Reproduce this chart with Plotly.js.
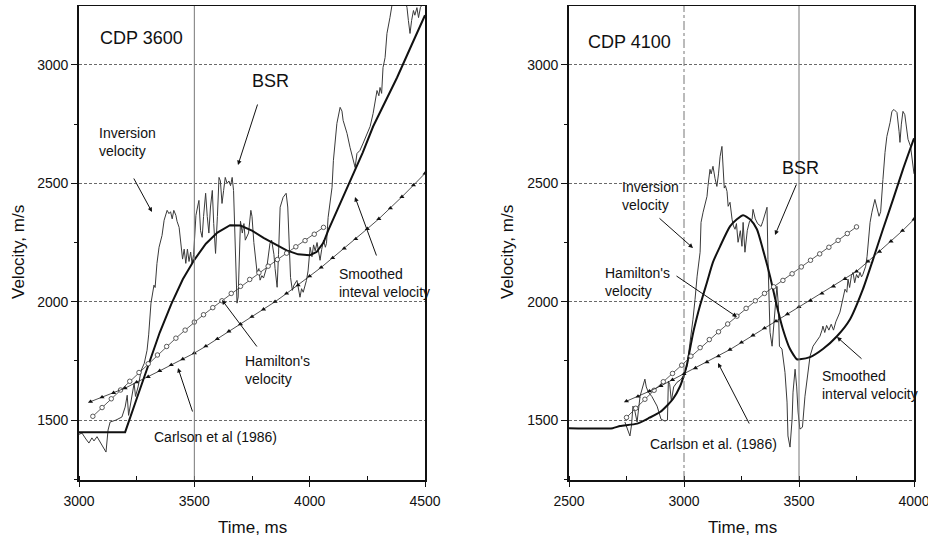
<!DOCTYPE html>
<html>
<head>
<meta charset="utf-8">
<script src="https://cdn.plot.ly/plotly-3.0.1.min.js"></script>
<style>
  html, body { margin: 0; padding: 0; background: #fff; }
  #chart { width: 928px; height: 538px; }
</style>
</head>
<body>
<div id="chart"></div>
<script>
// ---------------- CDP 3600 (left panel) ----------------
const inv3600T = [3000,3013,3030,3043,3056,3065,3078,3100,3117,3126,3135,3160,3186,3200,3209,3215,3239,3245,3256,3270,3283,3295,3302,3312,3317,3325,3330,3338,3347,3360,3369,3374,3382,3390,3397,3404,3411,3420,3425,3434,3441,3449,3456,3463,3470,3477,3484,3490,3497,3507,3514,3520,3527,3534,3540,3549,3556,3563,3570,3578,3584,3592,3600,3607,3613,3620,3627,3634,3642,3650,3657,3664,3670,3679,3685,3690,3696,3700,3708,3715,3721,3735,3745,3750,3758,3772,3780,3785,3793,3800,3815,3828,3835,3845,3850,3859,3865,3872,3885,3898,3905,3912,3917,3925,3932,3945,3952,3958,3965,3972,3986,3993,4002,4010,4017,4024,4032,4045,4052,4060,4068,4073,4080,4097,4103,4110,4118,4132,4140,4145,4162,4175,4190,4197,4205,4218,4232,4240,4249,4262,4275,4292,4300,4305,4312,4318,4327,4335,4348,4357,4370,4400,4415,4422,4428,4435,4442,4450,4456,4465,4472,4480,4490,4500];
const inv3600V = [1440,1445,1420,1403,1425,1412,1430,1395,1365,1458,1492,1500,1513,1555,1605,1520,1656,1600,1640,1711,1740,1795,1860,1994,2019,2070,2060,2162,2230,2280,2344,2358,2386,2372,2380,2350,2386,2365,2340,2314,2247,2180,2222,2162,2222,2170,2210,2162,2200,2365,2400,2428,2300,2272,2360,2458,2360,2290,2400,2470,2330,2204,2360,2525,2510,2415,2470,2525,2500,2510,2490,2525,2470,2217,1994,2020,2200,2340,2290,2330,2260,2290,2386,2360,2250,2124,2140,2091,2110,2100,2150,2247,2260,2200,2140,2061,2200,2399,2441,2458,2400,2217,2103,2048,2070,2090,2050,2019,2055,2040,2090,2130,2230,2190,2240,2215,2250,2175,2220,2260,2230,2247,2356,2483,2597,2681,2753,2821,2805,2766,2711,2652,2597,2567,2626,2639,2670,2690,2711,2740,2795,2892,2870,2905,2880,2989,3031,3133,3200,3259,3330,3330,3260,3242,3188,3133,3188,3230,3210,3242,3200,3242,3260,3300];

const smooth3600T = [3000,3200,3250,3300,3350,3400,3450,3500,3550,3600,3655,3700,3750,3800,3850,3900,3950,4000,4030,4060,4080,4132,4175,4230,4275,4330,4379,4440,4500];
const smooth3600V = [1449,1449,1590,1730,1870,1990,2095,2177,2245,2292,2323,2322,2300,2270,2242,2217,2200,2196,2210,2250,2300,2416,2513,2630,2740,2850,2947,3080,3210];

const ham3600T = [3060,3100,3140,3180,3220,3260,3300,3340,3380,3420,3460,3500,3540,3580,3620,3660,3700,3740,3780,3820,3860,3900,3940,3980,4020,4060];
const ham3600V = [1516,1553,1590,1627,1664,1701,1738,1775,1811,1846,1880,1914,1945,1975,2004,2035,2065,2094,2122,2150,2178,2205,2232,2258,2285,2314];

const carl3600T = [3050,3100,3150,3200,3250,3300,3350,3400,3450,3500,3550,3600,3650,3700,3750,3800,3850,3900,3950,4000,4050,4100,4150,4200,4250,4300,4350,4400,4450,4500];
const carl3600V = [1578,1597,1615,1635,1660,1683,1708,1733,1758,1783,1812,1843,1875,1905,1937,1968,2000,2035,2070,2108,2145,2185,2225,2265,2308,2350,2395,2443,2492,2542];

// ---------------- CDP 4100 (right panel) ----------------
const inv4100T = [2743,2752,2765,2772,2778,2786,2796,2809,2820,2830,2836,2845,2860,2883,2900,2917,2928,2932,2938,2945,2955,2970,2985,3000,3013,3026,3039,3048,3057,3070,3074,3083,3092,3100,3104,3113,3118,3126,3135,3143,3150,3157,3165,3170,3175,3180,3187,3192,3200,3209,3215,3222,3228,3235,3245,3252,3257,3265,3275,3285,3296,3300,3310,3320,3335,3343,3352,3361,3365,3369,3374,3383,3390,3397,3404,3410,3415,3426,3432,3439,3448,3452,3461,3466,3470,3474,3483,3490,3496,3504,3515,3526,3535,3548,3561,3575,3591,3600,3604,3612,3620,3630,3640,3650,3660,3678,3691,3700,3708,3713,3720,3728,3735,3742,3750,3758,3765,3772,3778,3790,3796,3809,3817,3830,3838,3848,3855,3861,3865,3874,3882,3896,3904,3913,3926,3935,3939,3945,3952,3960,3968,3974,3985,3996,4000];
const inv4100V = [1492,1470,1433,1480,1559,1540,1492,1601,1640,1673,1640,1618,1600,1559,1504,1496,1500,1665,1650,1580,1640,1660,1670,1690,1728,1820,1926,2010,2108,2209,2335,2378,2420,2445,2487,2559,2540,2572,2520,2487,2540,2614,2656,2559,2480,2490,2466,2403,2420,2348,2320,2306,2330,2251,2300,2234,2335,2209,2300,2340,2348,2390,2350,2330,2318,2340,2369,2399,2179,2040,1871,1812,1900,1990,2065,1990,1812,1800,1760,1702,1576,1433,1386,1450,1504,1618,1715,1640,1534,1462,1470,1601,1673,1770,1812,1830,1854,1880,1897,1870,1900,1880,1905,1880,1915,1956,2023,2053,2040,2095,2060,2110,2124,2080,2115,2100,2124,2105,2116,2150,2192,2335,2378,2432,2400,2361,2380,2445,2517,2631,2698,2757,2804,2812,2799,2720,2673,2750,2804,2790,2720,2686,2656,2559,2540];

const smooth4100T = [2500,2690,2722,2796,2850,2896,2930,2952,2983,3000,3013,3026,3039,3055,3070,3100,3126,3157,3200,3230,3257,3287,3317,3343,3374,3404,3430,3461,3491,3504,3548,3604,3665,3722,3778,3822,3865,3909,3952,4000];
const smooth4100V = [1466,1466,1475,1485,1510,1534,1565,1589,1643,1690,1735,1800,1865,1930,1985,2082,2167,2234,2318,2348,2365,2348,2306,2221,2108,1981,1884,1800,1757,1757,1766,1800,1854,1926,2053,2179,2306,2432,2559,2690];

const ham4100T = [2750,2790,2830,2870,2910,2950,2990,3030,3070,3110,3150,3190,3230,3270,3310,3350,3390,3430,3470,3510,3550,3590,3630,3670,3710,3750];
const ham4100V = [1511,1550,1588,1626,1662,1697,1732,1770,1806,1840,1873,1906,1939,1972,2004,2035,2063,2090,2118,2147,2175,2202,2230,2259,2288,2316];

const carl4100T = [2750,2800,2850,2900,2950,3000,3050,3100,3150,3200,3250,3300,3350,3400,3450,3500,3550,3600,3650,3700,3750,3800,3850,3900,3950,4000];
const carl4100V = [1580,1600,1622,1645,1670,1695,1720,1745,1770,1798,1828,1858,1888,1918,1948,1978,2005,2035,2065,2097,2128,2170,2212,2255,2300,2348];

// ---------------- labels ----------------
const panelTitles = ['CDP 3600', 'CDP 4100'];
const xTitle = 'Time, ms';
const yTitle = 'Velocity, m/s';
const xTicksLeft = [3000, 3500, 4000, 4500];
const xTicksRight = [2500, 3000, 3500, 4000];
const yTicks = [1500, 2000, 2500, 3000];

const FONT = 'Liberation Sans, Arial, Helvetica, sans-serif';
const W = 928, H = 538;

function invTrace(x, y, xa, ya) {
  return {x, y, xaxis: xa, yaxis: ya, type: 'scatter', mode: 'lines',
    line: {color: '#3a3a3a', width: 1}, hoverinfo: 'skip'};
}
function smoothTrace(x, y, xa, ya, spline) {
  return {x, y, xaxis: xa, yaxis: ya, type: 'scatter', mode: 'lines',
    line: {color: '#111', width: 2, shape: spline ? 'spline' : 'linear', smoothing: 0.6}, hoverinfo: 'skip'};
}
function hamTrace(x, y, xa, ya) {
  return {x, y, xaxis: xa, yaxis: ya, type: 'scatter', mode: 'lines+markers',
    line: {color: '#333', width: 0.8},
    marker: {symbol: 'circle', size: 4.5, color: '#fff', line: {color: '#333', width: 0.8}}, hoverinfo: 'skip'};
}
function carlTrace(x, y, xa, ya) {
  return {x, y, xaxis: xa, yaxis: ya, type: 'scatter', mode: 'lines+markers',
    line: {color: '#222', width: 0.8},
    marker: {symbol: 'triangle-up', size: 4.5, color: '#111'}, hoverinfo: 'skip'};
}

const data = [
  invTrace(inv3600T, inv3600V, 'x', 'y'),
  smoothTrace(smooth3600T, smooth3600V, 'x', 'y', false),
  hamTrace(ham3600T, ham3600V, 'x', 'y'),
  carlTrace(carl3600T, carl3600V, 'x', 'y'),
  invTrace(inv4100T, inv4100V, 'x2', 'y2'),
  smoothTrace(smooth4100T, smooth4100V, 'x2', 'y2', true),
  hamTrace(ham4100T, ham4100V, 'x2', 'y2'),
  carlTrace(carl4100T, carl4100V, 'x2', 'y2')
];

function xAxis(domain, range, ticks, anchor) {
  return {domain, range, anchor, tickvals: ticks, ticktext: ticks.map(String),
    showgrid: false, zeroline: false, showline: true, mirror: true, linecolor: '#111', linewidth: 1.5,
    ticks: 'outside', ticklen: 5, tickwidth: 1, tickcolor: '#111',
    minor: {dtick: 250, ticks: 'inside', ticklen: 4, tickcolor: '#111', showgrid: false},
    tickfont: {family: FONT, size: 14, color: '#111'}, ticklabelstandoff: 3,
    ticklabeloverflow: 'allow', fixedrange: true};
}
function yAxis(anchor) {
  return {domain: [(H - 480) / H, (H - 6) / H], range: [1247, 3249], anchor, tickvals: yTicks, ticktext: yTicks.map(String),
    showgrid: true, gridcolor: '#6a6a6a', gridwidth: 1, griddash: '3px,2px', zeroline: false,
    showline: true, mirror: true, linecolor: '#111', linewidth: 1.8,
    ticks: 'outside', ticklen: 6, tickwidth: 1, tickcolor: '#111',
    minor: {dtick: 250, ticks: 'outside', ticklen: 3, tickcolor: '#111', showgrid: false},
    tickfont: {family: FONT, size: 14, color: '#111'}, ticklabeloverflow: 'allow', fixedrange: true};
}

function P(x, y) { return {x: x / W, y: 1 - y / H}; }
function label(text, x, y, size, anchor) {
  const p = P(x, y);
  return {xref: 'paper', yref: 'paper', x: p.x, y: p.y, text, showarrow: false,
    xanchor: anchor || 'left', yanchor: 'middle', align: 'left',
    font: {family: FONT, size: size, color: '#111'}};
}
function arrow(tx, ty, hx, hy) {
  const p = P(hx, hy);
  return {xref: 'paper', yref: 'paper', x: p.x, y: p.y, ax: tx - hx, ay: ty - hy,
    axref: 'pixel', ayref: 'pixel', text: '', showarrow: true,
    arrowhead: 2, arrowsize: 0.9, arrowwidth: 1, arrowcolor: '#111'};
}
function vtitle(text, x, y) {
  const p = P(x, y);
  return {xref: 'paper', yref: 'paper', x: p.x, y: p.y, text, showarrow: false, textangle: -90,
    xanchor: 'center', yanchor: 'middle', font: {family: FONT, size: 17, color: '#111'}};
}

const annotations = [
  label(panelTitles[0], 141, 38, 18, 'center'),
  label('BSR', 270, 81, 18, 'center'),
  label('Inversion<br>velocity', 97, 142, 14),
  label('Smoothed<br>inteval velocity', 337, 283, 14),
  label("Hamilton's<br>velocity", 243, 370, 14),
  label('Carlson et al (1986)', 152, 437, 14),
  arrow(258, 103, 238, 165),
  arrow(133, 177, 152, 212),
  arrow(377, 257, 355, 197),
  arrow(258, 348, 222, 300),
  arrow(193, 413, 178, 368),

  label(panelTitles[1], 629, 42, 18, 'center'),
  label('BSR', 800, 168, 18, 'center'),
  label('Inversion<br>velocity', 620, 196, 14),
  label("Hamilton's<br>velocity", 603, 282, 14),
  label('Carlson et al. (1986)', 648, 444, 14),
  label('Smoothed<br>interval velocity', 820, 385, 14),
  arrow(797, 183, 775, 235),
  arrow(658, 217, 693, 248),
  arrow(675, 275, 737, 317),
  arrow(750, 425, 718, 363),
  arrow(863, 360, 837, 337),

  vtitle(yTitle, 19, 252),
  vtitle(yTitle, 508, 252),
  label(xTitle, 253, 527, 17, 'center'),
  label(xTitle, 742, 527, 17, 'center')
];

const shapes = [
  {type: 'line', xref: 'x', yref: 'y domain', x0: 3500, x1: 3500, y0: 0, y1: 1, line: {color: '#777', width: 1}},
  {type: 'line', xref: 'x2', yref: 'y2 domain', x0: 3000, x1: 3000, y0: 0, y1: 1, line: {color: '#777', width: 1, dash: 'dashdot'}},
  {type: 'line', xref: 'x2', yref: 'y2 domain', x0: 3500, x1: 3500, y0: 0, y1: 1, line: {color: '#777', width: 1}}
];

const layout = {
  width: W, height: H, margin: {l: 0, r: 0, t: 0, b: 0},
  paper_bgcolor: '#fff', plot_bgcolor: '#fff', showlegend: false,
  font: {family: FONT, color: '#111'},
  xaxis: xAxis([79 / W, 425 / W], [3000, 4500.01], xTicksLeft, 'y'),
  yaxis: yAxis('x'),
  xaxis2: xAxis([569 / W, 914 / W], [2500, 4000.01], xTicksRight, 'y2'),
  yaxis2: yAxis('x2'),
  annotations, shapes
};

Plotly.newPlot('chart', data, layout, {displayModeBar: false, staticPlot: true});
</script>
</body>
</html>
